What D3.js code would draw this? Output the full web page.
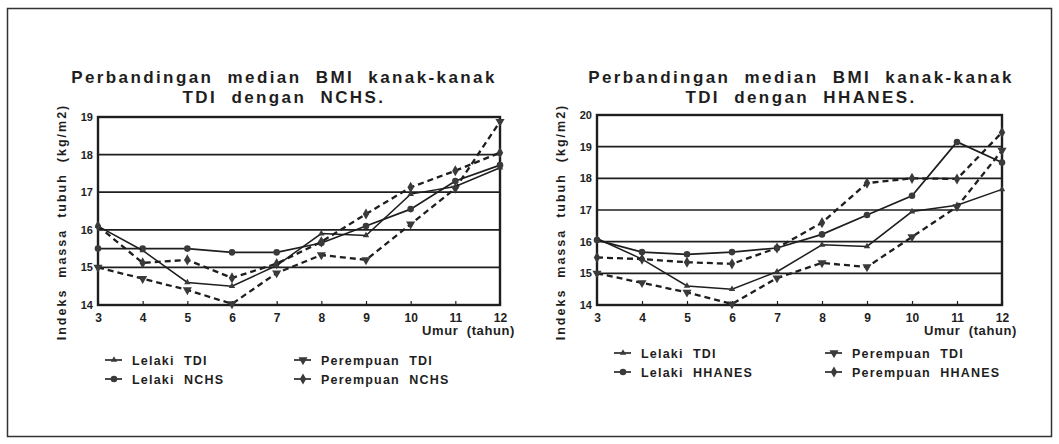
<!DOCTYPE html>
<html>
<head>
<meta charset="utf-8">
<script src="https://cdn.jsdelivr.net/npm/d3@7"></script>
<style>
  html, body { margin: 0; padding: 0; background: #fff; }
  svg { display: block; font-family: "Liberation Sans", Arial, sans-serif; }
</style>
</head>
<body>
<svg id="chart" width="1059" height="444"></svg>
<script>
// ages (x axis)
const ages = [3, 4, 5, 6, 7, 8, 9, 10, 11, 12];

// TDI medians (same in both panels)
const lelakiTDI    = [16.1, 15.45, 14.6, 14.5, 15.05, 15.9, 15.85, 16.95, 17.15, 17.65];
const perempuanTDI = [15.0, 14.7, 14.4, 14.03, 14.85, 15.33, 15.2, 16.15, 17.1, 18.88];

// reference medians
const lelakiNCHS      = [15.5, 15.5, 15.5, 15.4, 15.4, 15.65, 16.1, 16.55, 17.3, 17.72];
const perempuanNCHS   = [16.1, 15.12, 15.2, 14.72, 15.1, 15.68, 16.42, 17.13, 17.57, 18.05];
const lelakiHHANES    = [16.05, 15.67, 15.6, 15.67, 15.8, 16.23, 16.84, 17.45, 19.15, 18.5];
const perempuanHHANES = [15.5, 15.45, 15.35, 15.3, 15.8, 16.6, 17.85, 18.0, 17.98, 19.45];

const yTicksNCHS   = [14, 15, 16, 17, 18, 19];
const yTicksHHANES = [14, 15, 16, 17, 18, 19, 20];

const titleLine1 = "Perbandingan  median  BMI  kanak-kanak";
const yLabel = "Indeks  massa  tubuh  (kg/m2)";
const xLabel = "Umur  (tahun)";

const ink = "#1e1e1e";
const svg = d3.select("#chart");

// outer frame
svg.append("rect")
  .attr("x", 7.5).attr("y", 8.5)
  .attr("width", 1044).attr("height", 428)
  .attr("fill", "none").attr("stroke", "#333").attr("stroke-width", 1.5);

const symbolOf = {
  lTDI: d3.symbol().type(d3.symbolTriangle).size(18),
  lRef: d3.symbol().type(d3.symbolCircle).size(34),
  pTDI: d3.symbol().type(d3.symbolTriangle).size(36),
  pRef: d3.symbol().type(d3.symbolDiamond).size(36)
};

function drawPanel(p) {
  const g = svg.append("g");

  // title
  [titleLine1, p.title2].forEach((t, i) => {
    g.append("text")
      .attr("x", p.cx).attr("y", 83 + i * 20)
      .attr("text-anchor", "middle")
      .attr("font-size", 17).attr("font-weight", "bold")
      .attr("letter-spacing", 2.4)
      .attr("fill", ink)
      .style("white-space", "pre")
      .text(t);
  });

  const x = d3.scaleLinear().domain([3, 12]).range([p.left, p.right]);
  const y = d3.scaleLinear().domain([14, p.yMax]).range([305, p.top]);

  // grid lines
  g.selectAll(".grid")
    .data(p.yTicks)
    .join("line")
    .attr("x1", p.left).attr("x2", p.right)
    .attr("y1", d => y(d)).attr("y2", d => y(d))
    .attr("stroke", ink).attr("stroke-width", 1.7);

  // frame
  g.append("rect")
    .attr("x", p.left).attr("y", p.top)
    .attr("width", p.right - p.left).attr("height", 305 - p.top)
    .attr("fill", "none").attr("stroke", ink).attr("stroke-width", 2.4);

  // axes
  const xAxis = g.append("g")
    .attr("transform", `translate(0,305)`)
    .call(d3.axisBottom(x).tickValues(ages).tickSize(-4).tickPadding(8).tickFormat(d3.format("d")));
  xAxis.select(".domain").remove();
  xAxis.selectAll("line").attr("stroke", ink).attr("stroke-width", 1.2);
  xAxis.selectAll("text")
    .attr("font-size", 12).attr("font-weight", "bold")
    .attr("font-family", "Liberation Sans, Arial, sans-serif")
    .attr("fill", ink);

  const yAxis = g.append("g")
    .attr("transform", `translate(${p.left},0)`)
    .call(d3.axisLeft(y).tickValues(p.yTicks).tickSize(0).tickPadding(5).tickFormat(d3.format("d")));
  yAxis.select(".domain").remove();
  yAxis.selectAll("text")
    .attr("font-size", 11).attr("font-weight", "bold")
    .attr("font-family", "Liberation Sans, Arial, sans-serif")
    .attr("fill", ink);

  // axis titles
  g.append("text")
    .attr("transform", `translate(${p.left - 32},${p.yLabelY}) rotate(-90)`)
    .attr("text-anchor", "middle")
    .attr("font-size", 12.5).attr("font-weight", "bold")
    .attr("letter-spacing", 2)
    .attr("fill", ink)
    .style("white-space", "pre")
    .text(yLabel);
  g.append("text")
    .attr("x", p.right + 15).attr("y", 335)
    .attr("text-anchor", "end")
    .attr("font-size", 13).attr("font-weight", "bold")
    .attr("letter-spacing", 0.6)
    .attr("fill", ink)
    .style("white-space", "pre")
    .text(xLabel);

  // series
  const series = [
    { key: "lRef", values: p.lRef, dash: null, width: 1.7, rot: 0 },
    { key: "pRef", values: p.pRef, dash: "6,4", width: 2.3, rot: 0 },
    { key: "lTDI", values: lelakiTDI, dash: null, width: 1.5, rot: 0 },
    { key: "pTDI", values: perempuanTDI, dash: "6,4", width: 2.3, rot: 180 }
  ];

  const line = d3.line()
    .x((d, i) => x(ages[i]))
    .y(d => y(d));

  series.forEach(s => {
    g.append("path")
      .datum(s.values)
      .attr("fill", "none")
      .attr("stroke", ink)
      .attr("stroke-width", s.width)
      .attr("stroke-dasharray", s.dash)
      .attr("d", line);
    g.selectAll(null)
      .data(s.values)
      .join("path")
      .attr("transform", (d, i) => `translate(${x(ages[i])},${y(d)}) rotate(${s.rot})`)
      .attr("d", symbolOf[s.key])
      .attr("fill", "#3a3a3a");
  });

  // legend
  const legend = g.append("g");
  const items = [
    { key: "lTDI", label: "Lelaki  TDI", col: 0, row: 0, rot: 0 },
    { key: "lRef", label: "Lelaki  " + p.refName, col: 0, row: 1, rot: 0 },
    { key: "pTDI", label: "Perempuan  TDI", col: 1, row: 0, rot: 180 },
    { key: "pRef", label: "Perempuan  " + p.refName, col: 1, row: 1, rot: 0 }
  ];
  items.forEach(it => {
    const lx = p.legX[it.col];
    const ly = p.legY + it.row * 19;
    legend.append("line")
      .attr("x1", lx).attr("x2", lx + 17)
      .attr("y1", ly).attr("y2", ly)
      .attr("stroke", ink).attr("stroke-width", 1.6);
    legend.append("path")
      .attr("transform", `translate(${lx + 9},${ly}) rotate(${it.rot})`)
      .attr("d", symbolOf[it.key])
      .attr("fill", "#3a3a3a");
    legend.append("text")
      .attr("x", lx + 27).attr("y", ly + 4.5)
      .attr("font-size", 12.5).attr("font-weight", "bold")
      .attr("letter-spacing", 1.2)
      .attr("fill", ink)
      .style("white-space", "pre")
      .text(it.label);
  });
}

drawPanel({
  cx: 284, title2: "TDI  dengan  NCHS.",
  left: 98, right: 500, top: 117, yMax: 19, yTicks: yTicksNCHS,
  yLabelY: 222,
  lRef: lelakiNCHS, pRef: perempuanNCHS, refName: "NCHS",
  legX: [105, 294], legY: 360
});

drawPanel({
  cx: 801, title2: "TDI  dengan  HHANES.",
  left: 597, right: 1002, top: 115, yMax: 20, yTicks: yTicksHHANES,
  yLabelY: 222,
  lRef: lelakiHHANES, pRef: perempuanHHANES, refName: "HHANES",
  legX: [614, 825], legY: 353
});
</script>
</body>
</html>
